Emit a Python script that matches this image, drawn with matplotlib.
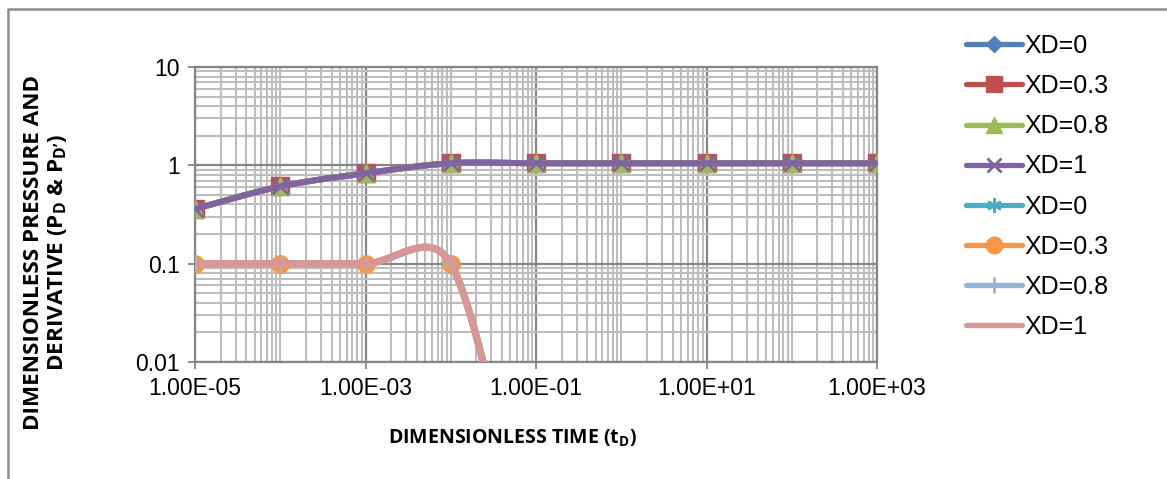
import numpy as np
import matplotlib
matplotlib.use('Agg')
import matplotlib.pyplot as plt
from matplotlib.ticker import FixedLocator, FuncFormatter, NullFormatter
from matplotlib.lines import Line2D

plt.rcParams['font.family'] = ['Liberation Sans', 'DejaVu Sans']
plt.rcParams['mathtext.fontset'] = 'custom'
plt.rcParams['mathtext.rm'] = 'Open Sans'
plt.rcParams['mathtext.bf'] = 'Open Sans:bold'

# dimensionless time
td = [1e-5, 1e-4, 1e-3, 1e-2, 1e-1, 1, 10, 100, 1000]
# pressure PD
pd_xd0 = [0.36, 0.61, 0.83, 1.05, 1.05, 1.05, 1.05, 1.05, 1.05]
pd_xd03 = [0.36, 0.61, 0.83, 1.05, 1.05, 1.05, 1.05, 1.05, 1.05]
pd_xd08 = [0.36, 0.61, 0.83, 1.05, 1.05, 1.05, 1.05, 1.05, 1.05]
pd_xd1 = [0.36, 0.61, 0.83, 1.05, 1.05, 1.05, 1.05, 1.05, 1.05]
# derivative PD'
dpd_xd0 = [0.1, 0.1, 0.1, 0.1, 8e-5, 1e-6, 1e-7, 1e-8, 1e-9]
dpd_xd03 = [0.1, 0.1, 0.1, 0.1, 8e-5, 1e-6, 1e-7, 1e-8, 1e-9]
dpd_xd08 = [0.1, 0.1, 0.1, 0.1, 8e-5, 1e-6, 1e-7, 1e-8, 1e-9]
dpd_xd1 = [0.1, 0.1, 0.1, 0.1, 8e-5, 1e-6, 1e-7, 1e-8, 1e-9]

labels = ['XD=0', 'XD=0.3', 'XD=0.8', 'XD=1', 'XD=0', 'XD=0.3', 'XD=0.8', 'XD=1']
series = [pd_xd0, pd_xd03, pd_xd08, pd_xd1, dpd_xd0, dpd_xd03, dpd_xd08, dpd_xd1]
colors = ['#4F81BD', '#C0504D', '#9BBB59', '#8064A2',
          '#4BACC6', '#F79646', '#95B3D7', '#D99694']
markers = ['D', 's', '^', 'x', (6, 2, 0), 'o', '+', None]
msizes = [9, 12.5, 12.5, 11, 11, 12.5, 12, 0]
lwidths = [4.3, 4.3, 4.3, 4.3, 5, 5, 5, 5]

W, H = 1167, 479
fig = plt.figure(figsize=(W / 100, H / 100), dpi=100)
ax = fig.add_axes([195 / W, 1 - 362 / H, (877 - 195) / W, (362 - 67) / H])
ax.set_xscale('log')
ax.set_yscale('log')
ax.set_xlim(1e-5, 1e3)
ax.set_ylim(0.01, 10)


def excel_smooth(xs, ys, n=60):
    # excel style smoothing done in screen coordinates
    P = ax.transData.transform(np.column_stack([xs, ys]))
    out = []
    m = len(P)
    for i in range(m - 1):
        p1, p2 = P[i], P[i + 1]
        p0 = P[i - 1] if i > 0 else p1
        p3 = P[i + 2] if i + 2 < m else p2
        d12 = np.hypot(*(p2 - p1))
        d02 = np.hypot(*(p2 - p0))
        d13 = np.hypot(*(p3 - p1))
        f0 = 1 / 6 if d02 / 6 < d12 / 2 else d12 / d02 / 2
        f3 = 1 / 6 if d13 / 6 < d12 / 2 else d12 / d13 / 2
        c1 = p1 + f0 * (p2 - p0)
        c2 = p2 - f3 * (p3 - p1)
        t = np.linspace(0, 1, n)[:, None]
        seg = ((1 - t) ** 3 * p1 + 3 * (1 - t) ** 2 * t * c1
               + 3 * (1 - t) * t ** 2 * c2 + t ** 3 * p2)
        out.append(seg if i == 0 else seg[1:])
    pts = ax.transData.inverted().transform(np.vstack(out))
    return pts[:, 0], pts[:, 1]


handles = []
for ys, lab, c, mk, ms, lw in zip(series, labels, colors, markers, msizes, lwidths):
    sx, sy = excel_smooth(td, ys)
    ax.plot(sx, sy, color=c, lw=lw, solid_capstyle='round', zorder=3)
    thin = mk in ('x', '+') or isinstance(mk, tuple)
    if mk is not None:
        ax.plot(td, ys, ls='none', marker=mk, ms=ms, color=c, mec=c,
                mew=2 if thin else 1, zorder=3)
    handles.append(Line2D([], [], color=c, lw=3.8, marker=mk, ms=ms * 0.95, mec=c,
                          mew=2 if thin else 1, solid_capstyle='round'))

major_x = [1e-5, 1e-3, 1e-1, 1e1, 1e3]
minor_x = [k * 10.0 ** e for e in range(-5, 3) for k in range(1, 10) if k * 10.0 ** e not in major_x]
major_y = [0.01, 0.1, 1, 10]
minor_y = [k * 10.0 ** e for e in range(-2, 1) for k in range(2, 10)]
ax.xaxis.set_major_locator(FixedLocator(major_x))
ax.xaxis.set_minor_locator(FixedLocator(minor_x))
ax.yaxis.set_major_locator(FixedLocator(major_y))
ax.yaxis.set_minor_locator(FixedLocator(minor_y))
ax.xaxis.set_major_formatter(FuncFormatter(lambda v, p: f'{v:.2E}'))
ax.yaxis.set_major_formatter(FuncFormatter(lambda v, p: f'{v:g}'))
ax.xaxis.set_minor_formatter(NullFormatter())
ax.yaxis.set_minor_formatter(NullFormatter())
ax.tick_params(which='major', direction='out', length=5, width=1.3, color='#868686',
               labelsize=16.5, pad=6)
ax.tick_params(which='minor', length=0)
ax.grid(which='minor', color='#BDBDBD', lw=1.5, zorder=0)
ax.grid(which='major', color='#868686', lw=1.6, zorder=0)
ax.set_axisbelow(True)
for s in ax.spines.values():
    s.set_color('#868686')
    s.set_linewidth(1.6)

fig.text(512 / W, 1 - 438 / H, r'DIMENSIONLESS TIME ($\mathbf{t_D}$)', ha='center', va='center',
         fontsize=14, fontweight='bold', family='Open Sans')
fig.text(46 / W, 1 - 253 / H,
         'DIMENSIONLESS PRESSURE AND\n' + r'DERIVATIVE ($\mathbf{P_D}$ & $\mathbf{P_{D’}}$)',
         ha='center', va='center', rotation=90, fontsize=16.2, fontweight='bold',
         family='Open Sans', linespacing=1.1, multialignment='center')

fig.legend(handles=handles, labels=labels, loc='upper left',
           bbox_to_anchor=(966 / W, 1 - 34 / H), frameon=False, fontsize=18,
           handlelength=2.25, handletextpad=0.1, labelspacing=0.645,
           borderpad=0, borderaxespad=0)

# outer frame of the chart area
fig.add_artist(Line2D([8 / W, 8 / W, 1], [0, 1 - 9 / H, 1 - 9 / H], transform=fig.transFigure,
                      color='#8C8C8C', lw=1.8))

fig.savefig('out.png', dpi=100)
